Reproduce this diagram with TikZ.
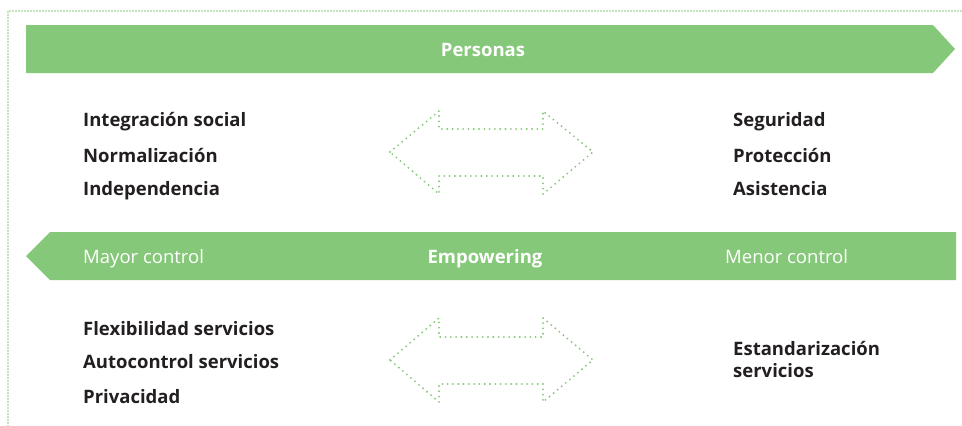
\documentclass[tikz,border=0pt]{standalone}
\usepackage{fontspec}
\setmainfont{Open Sans}
\definecolor{lgreen}{HTML}{86C87A}
\definecolor{txt}{HTML}{231F20}
\begin{document}
\begin{tikzpicture}[x=1pt,y=-1pt,
  banner/.style={fill=lgreen,draw=none},
  lbl/.style={anchor=base west,inner sep=0pt,font=\fontsize{18.5}{22}\selectfont\bfseries,text=txt},
  bantext/.style={inner sep=0pt,font=\fontsize{18.5}{22}\selectfont,text=white},
  dblarrow/.style={draw=lgreen,line width=2.1pt,line cap=round,line join=round,dash pattern=on 0pt off 5.3pt},
  frame/.style={draw=lgreen,line width=1.8pt,line cap=round,dash pattern=on 0pt off 3pt}]
\useasboundingbox (0,0) rectangle (962,426);
% dotted frame
\draw[frame] (8,426) -- (8,11) -- (962,11);
% top banner
\path[banner] (26,25) -- (933,25) -- (955,49) -- (933,73) -- (26,73) -- cycle;
\node[bantext,anchor=base,font=\fontsize{18.5}{22}\selectfont\bfseries] (personas) at (483,56) {Personas};
% middle banner
\path[banner] (50,232) -- (956,232) -- (956,280) -- (50,280) -- (26,256) -- cycle;
\node[bantext,anchor=base west] (mayor) at (83,263) {Mayor control};
\node[bantext,anchor=base,font=\fontsize{18.5}{22}\selectfont\bfseries] (emp) at (485,263) {Empowering};
\node[bantext,anchor=base west] (menor) at (725,263) {Menor control};
% top texts
\node[lbl] (is) at (83,126) {Integración social};
\node[lbl] (no) at (83,162) {Normalización};
\node[lbl] (in) at (83,195) {Independencia};
\node[lbl] (se) at (733,126) {Seguridad};
\node[lbl] (pr) at (733,162) {Protección};
\node[lbl] (as) at (733,195) {Asistencia};
% bottom texts
\node[lbl] (fl) at (83,335) {Flexibilidad servicios};
\node[lbl] (au) at (83,368) {Autocontrol servicios};
\node[lbl] (pv) at (83,403) {Privacidad};
\node[lbl] (es) at (733,355) {Estandarización};
\node[lbl] (es2) at (733,377) {servicios};
% double arrows
\draw[dblarrow] (390,152) -- (439,111) -- (439,129) -- (543,129) -- (543,111) -- (593,152)
  -- (543,194) -- (543,176) -- (439,176) -- (439,194) -- cycle;
\draw[dblarrow] (390,360) -- (439,318) -- (439,337) -- (543,337) -- (543,318) -- (593,360)
  -- (543,402) -- (543,384) -- (439,384) -- (439,402) -- cycle;
\end{tikzpicture}
\end{document}
